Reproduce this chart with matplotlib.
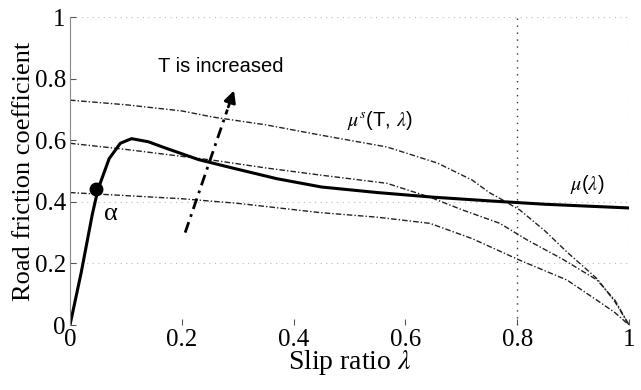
import matplotlib
matplotlib.use("Agg")
import matplotlib.pyplot as plt

plt.rcParams["mathtext.fontset"] = "stix"

# mu(lambda) : road friction curve
lam_mu = [0, 0.02, 0.04, 0.05, 0.06, 0.07, 0.09, 0.11, 0.14, 0.17, 0.23, 0.29,
          0.37, 0.45, 0.55, 0.65, 0.75, 0.85, 1.0]
mu = [0, 0.17, 0.36, 0.44, 0.49, 0.54, 0.59, 0.605, 0.595, 0.575, 0.537, 0.51,
      0.475, 0.448, 0.43, 0.415, 0.403, 0.392, 0.38]

# mu^s(T, lambda) for three values of T
lam_s1 = [0, 0.1, 0.2, 0.256, 0.35, 0.447, 0.567, 0.657, 0.72, 0.75, 0.77, 0.805,
          0.85, 0.889, 0.943, 0.975, 1.0]
mu_s1 = [0.73, 0.715, 0.695, 0.675, 0.65, 0.617, 0.578, 0.526, 0.47, 0.43, 0.41,
         0.373, 0.305, 0.237, 0.15, 0.075, 0.0]
lam_s2 = [0, 0.1, 0.256, 0.35, 0.447, 0.567, 0.644, 0.7, 0.769, 0.818, 0.88,
          0.943, 0.975, 1.0]
mu_s2 = [0.59, 0.57, 0.535, 0.51, 0.487, 0.46, 0.415, 0.375, 0.33, 0.276, 0.215,
         0.146, 0.08, 0.0]
lam_s3 = [0, 0.1, 0.2, 0.3, 0.447, 0.55, 0.644, 0.72, 0.805, 0.889, 0.943,
          0.975, 1.0]
mu_s3 = [0.43, 0.42, 0.41, 0.395, 0.365, 0.35, 0.33, 0.28, 0.21, 0.146, 0.08,
         0.04, 0.0]

alpha_pt = (0.046, 0.44)
arrow_start = (0.206, 0.30)
arrow_end = (0.295, 0.77)

ticks = [0, 0.2, 0.4, 0.6, 0.8, 1]
tick_labels = ["0", "0.2", "0.4", "0.6", "0.8", "1"]

serif = ["Liberation Serif", "DejaVu Serif"]
sans = ["Liberation Sans", "DejaVu Sans"]

fig = plt.figure(figsize=(6.41, 3.90), dpi=100)
ax = fig.add_axes([70 / 641, 65 / 390, 559 / 641, 308 / 390])

# partial grid like the original
for yv in [0.2, 0.4, 1.0]:
    ax.axhline(yv, color="#bbbbbb", lw=0.8, ls=(0, (1, 4)), zorder=0)
ax.axvline(1.0, color="#999999", lw=0.8, ls=(0, (1, 4)), zorder=0)
ax.axvline(0.8, color="#333333", lw=1.0, ls=(0, (1, 4)), zorder=0)

dd = (0, (4, 1.5, 1, 1.5))
ax.plot(lam_s1, mu_s1, color="#222222", lw=1.0, ls=dd)
ax.plot(lam_s2, mu_s2, color="#222222", lw=1.0, ls=dd)
ax.plot(lam_s3, mu_s3, color="#222222", lw=1.0, ls=dd)
ax.plot(lam_mu, mu, color="black", lw=2.2)
ax.plot([alpha_pt[0]], [alpha_pt[1]], "o", color="black", ms=9)

# "T is increased" arrow
fx = arrow_start[0] + 0.85 * (arrow_end[0] - arrow_start[0])
fy = arrow_start[1] + 0.85 * (arrow_end[1] - arrow_start[1])
ax.plot([arrow_start[0], fx], [arrow_start[1], fy], color="black", lw=2.0,
        ls=(0, (4, 2, 1, 2)))
ax.annotate("", xy=arrow_end, xytext=(fx, fy),
            arrowprops=dict(arrowstyle="-|>,head_width=0.35,head_length=0.7",
                            color="black", lw=2.0))

ax.text(0.27, 0.84, "T is increased", family=sans, fontsize=14.5,
        ha="center", va="center")
ax.text(0.495, 0.665, r"$\mu^s$(T, $\lambda$)", family=sans, fontsize=14.5,
        ha="left", va="center")
ax.text(0.895, 0.455, r"$\mu$($\lambda$)", family=sans, fontsize=14.5,
        ha="left", va="center")
ax.text(0.06, 0.36, "α", family=serif, fontsize=19,
        ha="left", va="center")

ax.set_xlim(0, 1)
ax.set_ylim(0, 1)
ax.set_xticks(ticks)
ax.set_xticklabels(tick_labels, family=serif, fontsize=18)
ax.set_yticks(ticks)
ax.set_yticklabels(tick_labels, family=serif, fontsize=18)
ax.tick_params(direction="in", length=4, pad=3, color="#555555")
for s in ["top", "right", "bottom"]:
    ax.spines[s].set_visible(False)
ax.spines["left"].set_color("#888888")

ax.set_xlabel(r"Slip ratio $\lambda$", family=serif, fontsize=20, labelpad=-2)
ax.set_ylabel("Road friction coefficient", family=serif, fontsize=19, labelpad=0)

fig.savefig("out.png", dpi=100)
